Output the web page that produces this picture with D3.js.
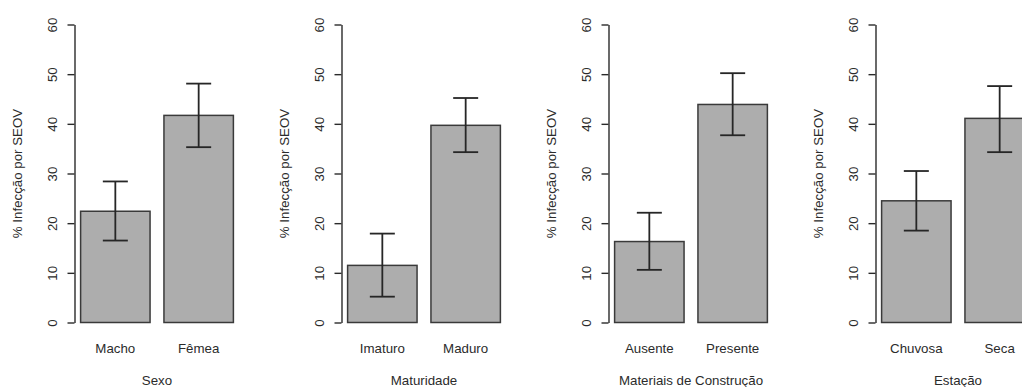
<!DOCTYPE html>
<html>
<head>
<meta charset="utf-8">
<script src="https://cdn.jsdelivr.net/npm/d3@7"></script>
<style>
  body { margin: 0; background: #fff; }
  svg text { font-family: "Liberation Sans", Arial, sans-serif; font-size: 13.3px; fill: #2b2b2b; }
  .axis path, .axis line { stroke: #2a2a2a; stroke-width: 1.4; }
  .bar { fill: #adadad; stroke: #3a3a3a; stroke-width: 1.5; }
  .err { stroke: #262626; stroke-width: 1.8; fill: none; }
</style>
</head>
<body>
<div id="container"></div>
<script>
// one panel per factor
var panelTitles = ["Sexo", "Maturidade", "Materiais de Construção", "Estação"];
var categories = [["Macho", "Fêmea"], ["Imaturo", "Maduro"], ["Ausente", "Presente"], ["Chuvosa", "Seca"]];
var means = [[22.4, 41.7], [11.5, 39.7], [16.3, 43.9], [24.5, 41.1]];
var lower = [[16.5, 35.3], [5.2, 34.3], [10.6, 37.7], [18.5, 34.3]];
var upper = [[28.4, 48.1], [17.9, 45.2], [22.1, 50.2], [30.5, 47.6]];
var yTicks = [0, 10, 20, 30, 40, 50, 60];
var yLabel = "% Infecção por SEOV";

var width = 1022, height = 387;
var panelW = 267;
var plotLeft = 74.5, plotW = 165;   // plot region inside each panel
var yTop = 24.5, yBottom = 322.5;
var capW = 25;

var svg = d3.select("#container").append("svg")
    .attr("width", width)
    .attr("height", height);

var y = d3.scaleLinear().domain([0, 60]).range([yBottom, yTop]);

panelTitles.forEach(function(title, i) {
    var g = svg.append("g").attr("transform", "translate(" + (i * panelW) + ",0)");

    var data = categories[i].map(function(c, j) {
        return { cat: c, mean: means[i][j], lo: lower[i][j], hi: upper[i][j] };
    });

    // R barplot spacing: width 1, space 0.2, 4% padding
    var x = d3.scaleBand()
        .domain(categories[i])
        .range([plotLeft, plotLeft + plotW])
        .paddingInner(1 / 6)
        .paddingOuter(0.0733);

    g.selectAll(".bar")
        .data(data)
        .enter().append("rect")
        .attr("class", "bar")
        .attr("x", function(d) { return x(d.cat); })
        .attr("width", x.bandwidth())
        .attr("y", function(d) { return y(d.mean); })
        .attr("height", function(d) { return y(0) - y(d.mean); });

    var err = g.selectAll(".errg")
        .data(data)
        .enter().append("g")
        .attr("class", "errg");

    err.append("line").attr("class", "err")
        .attr("x1", function(d) { return x(d.cat) + x.bandwidth() / 2; })
        .attr("x2", function(d) { return x(d.cat) + x.bandwidth() / 2; })
        .attr("y1", function(d) { return y(d.lo); })
        .attr("y2", function(d) { return y(d.hi); });

    ["lo", "hi"].forEach(function(k) {
        err.append("line").attr("class", "err")
            .attr("x1", function(d) { return x(d.cat) + x.bandwidth() / 2 - capW / 2; })
            .attr("x2", function(d) { return x(d.cat) + x.bandwidth() / 2 + capW / 2; })
            .attr("y1", function(d) { return y(d[k]); })
            .attr("y2", function(d) { return y(d[k]); });
    });

    var yAxis = d3.axisLeft(y)
        .tickValues(yTicks)
        .tickSizeInner(7)
        .tickSizeOuter(0);

    var ax = g.append("g")
        .attr("class", "axis")
        .attr("transform", "translate(" + plotLeft + ",0)")
        .call(yAxis);

    ax.selectAll("text")
        .attr("transform", "rotate(-90)")
        .attr("x", 0)
        .attr("y", -22.5)
        .attr("dy", "0.35em")
        .attr("text-anchor", "middle");

    g.append("text")
        .attr("transform", "translate(17," + ((yTop + yBottom) / 2) + ") rotate(-90)")
        .attr("dy", "0.35em")
        .attr("text-anchor", "middle")
        .text(yLabel);

    g.selectAll(".cat")
        .data(data)
        .enter().append("text")
        .attr("class", "cat")
        .attr("x", function(d) { return x(d.cat) + x.bandwidth() / 2; })
        .attr("y", 352.5)
        .attr("text-anchor", "middle")
        .text(function(d) { return d.cat; });

    g.append("text")
        .attr("x", plotLeft + plotW / 2)
        .attr("y", 384.5)
        .attr("text-anchor", "middle")
        .text(title);
});
</script>
</body>
</html>
